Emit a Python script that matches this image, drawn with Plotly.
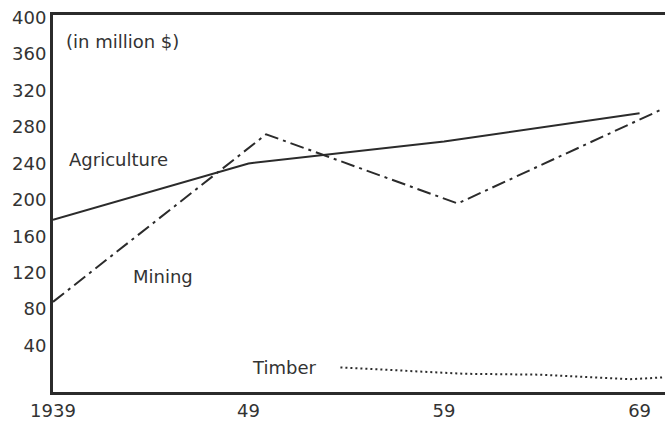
import plotly.graph_objects as go

# ---- data ----
agri_years = [1939, 1949, 1959, 1969]
agri_values = [178, 240, 264, 295]

mining_years = [1939, 1949.9, 1959.7, 1970.2]
mining_values = [88, 272, 196, 300]

timber_years = [1953.7, 1960, 1964, 1968.5, 1970.2]
timber_values = [16, 9, 8, 3, 5]

x_tick_vals = [1939, 1949, 1959, 1969]
x_tick_text = ["1939", "49", "59", "69"]
y_tick_vals = [40, 80, 120, 160, 200, 240, 280, 320, 360, 400]

line_color = "#2b2b2b"
text_color = "#333333"

fig = go.Figure()
fig.add_trace(go.Scatter(x=agri_years, y=agri_values, mode="lines",
                         line=dict(color=line_color, width=2), name="Agriculture"))
fig.add_trace(go.Scatter(x=mining_years, y=mining_values, mode="lines",
                         line=dict(color=line_color, width=2, dash="14px,5px,3px,5px"),
                         name="Mining"))
fig.add_trace(go.Scatter(x=timber_years, y=timber_values, mode="lines",
                         line=dict(color=line_color, width=2, dash="2px,3px"),
                         name="Timber"))

annotations = [
    dict(x=1939.55, y=374, text="(in million $)"),
    dict(x=1939.7, y=244, text="Agriculture"),
    dict(x=1943.0, y=116, text="Mining"),
    dict(x=1949.1, y=16, text="Timber"),
]
for a in annotations:
    a.update(xref="x", yref="y", xanchor="left", yanchor="middle", showarrow=False,
             font=dict(size=18, color=text_color))

fig.update_layout(
    width=666, height=422,
    margin=dict(l=53, r=1, t=15, b=22),
    paper_bgcolor="white", plot_bgcolor="white",
    showlegend=False,
    hovermode=False,
    font=dict(family="DejaVu Sans", size=18, color=text_color),
    annotations=annotations,
    xaxis=dict(range=[1939, 1970.3], tickvals=x_tick_vals, ticktext=x_tick_text,
               showgrid=False, zeroline=False, showline=True, linewidth=3,
               linecolor=line_color, mirror=True, ticks="",
               ticklabeloverflow="allow",
               tickfont=dict(size=18, color=text_color)),
    yaxis=dict(range=[-11, 403], tickvals=y_tick_vals,
               showgrid=False, zeroline=False, showline=True, linewidth=3,
               linecolor=line_color, mirror=False, ticks="",
               ticklabeloverflow="allow",
               tickfont=dict(size=18, color=text_color)),
)

fig.write_html(
    "out.html",
    config={"displayModeBar": False, "staticPlot": True},
    post_script="document.body.style.margin='0';document.body.style.overflow='hidden';",
)
